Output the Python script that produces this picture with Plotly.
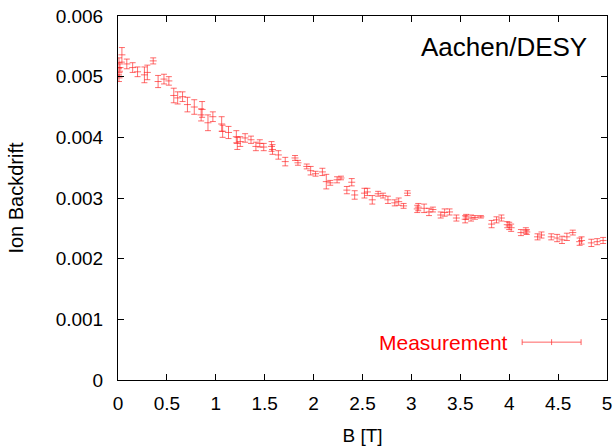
import plotly.graph_objects as go

# Data (B field in Tesla, ion backdrift, error)
B_field = [0.01, 0.01, 0.01, 0.02, 0.04, 0.09, 0.15, 0.20, 0.27, 0.30,
           0.36, 0.41, 0.47, 0.52, 0.57, 0.61, 0.66, 0.71, 0.78, 0.85,
           0.86, 0.92, 0.97, 1.06, 1.07, 1.13, 1.21, 1.22, 1.25, 1.30,
           1.36, 1.41, 1.45, 1.49, 1.57, 1.58, 1.64, 1.71, 1.81, 1.84,
           1.93, 1.97, 2.02, 2.09, 2.13, 2.17, 2.24, 2.28, 2.34, 2.39,
           2.42, 2.52, 2.55, 2.60, 2.66, 2.71, 2.76, 2.83, 2.87, 2.92,
           2.96, 3.06, 3.07, 3.13, 3.18, 3.22, 3.30, 3.34, 3.39, 3.46,
           3.55, 3.56, 3.61, 3.65, 3.71, 3.82, 3.87, 3.92, 3.98, 4.00,
           4.02, 4.12, 4.17, 4.18, 4.29, 4.33, 4.43, 4.49, 4.54, 4.59,
           4.65, 4.72, 4.74, 4.84, 4.90, 4.96]
backdrift = [0.00523, 0.00507, 0.00498, 0.00515, 0.00536, 0.00521, 0.00515, 0.00508, 0.00503, 0.00507,
             0.00526, 0.00492, 0.00496, 0.00493, 0.00469, 0.00465, 0.00467, 0.00454, 0.00450, 0.00437,
             0.00446, 0.00424, 0.00434, 0.00422, 0.00410, 0.00408, 0.00401, 0.00390, 0.00393, 0.00399,
             0.00396, 0.00385, 0.00390, 0.00384, 0.00385, 0.00380, 0.00371, 0.00360, 0.00366, 0.00358,
             0.00352, 0.00345, 0.00340, 0.00343, 0.00327, 0.00325, 0.00330, 0.00333, 0.00313, 0.00326,
             0.00305, 0.00308, 0.00310, 0.00297, 0.00307, 0.00304, 0.00297, 0.00292, 0.00294, 0.00287,
             0.00308, 0.00282, 0.00285, 0.00283, 0.00277, 0.00281, 0.00272, 0.00276, 0.00277, 0.00267,
             0.00265, 0.00269, 0.00267, 0.00268, 0.00269, 0.00257, 0.00264, 0.00267, 0.00256, 0.00254,
             0.00251, 0.00243, 0.00246, 0.00244, 0.00236, 0.00239, 0.00236, 0.00234, 0.00231, 0.00236,
             0.00243, 0.00228, 0.00230, 0.00226, 0.00228, 0.00230]
errors = [0.00008, 0.00006, 0.00006, 0.00006, 0.00012, 0.00008, 0.00008, 0.00008, 0.00013, 0.00012,
          0.00005, 0.00010, 0.00008, 0.00007, 0.00012, 0.00010, 0.00008, 0.00012, 0.00012, 0.00010,
          0.00013, 0.00013, 0.00008, 0.00012, 0.00010, 0.00010, 0.00010, 0.00010, 0.00008, 0.00007,
          0.00006, 0.00007, 0.00006, 0.00006, 0.00008, 0.00008, 0.00007, 0.00007, 0.00004, 0.00004,
          0.00004, 0.00007, 0.00004, 0.00006, 0.00012, 0.00004, 0.00005, 0.00003, 0.00006, 0.00006,
          0.00007, 0.00008, 0.00006, 0.00007, 0.00004, 0.00004, 0.00006, 0.00005, 0.00006, 0.00004,
          0.00004, 0.00006, 0.00006, 0.00007, 0.00006, 0.00004, 0.00005, 0.00006, 0.00005, 0.00005,
          0.00006, 0.00004, 0.00005, 0.00003, 0.00002, 0.00006, 0.00005, 0.00005, 0.00005, 0.00006,
          0.00006, 0.00005, 0.00005, 0.00004, 0.00005, 0.00005, 0.00005, 0.00006, 0.00006, 0.00006,
          0.00004, 0.00006, 0.00006, 0.00006, 0.00005, 0.00005]

x_ticks = [0, 0.5, 1, 1.5, 2, 2.5, 3, 3.5, 4, 4.5, 5]
x_ticklabels = ["0", "0.5", "1", "1.5", "2", "2.5", "3", "3.5", "4", "4.5", "5"]
y_ticks = [0, 0.001, 0.002, 0.003, 0.004, 0.005, 0.006]
y_ticklabels = ["0", "0.001", "0.002", "0.003", "0.004", "0.005", "0.006"]

red = "rgba(255,30,30,0.65)"
font = "Liberation Sans, Arial, sans-serif"

fig = go.Figure()
fig.add_trace(go.Scatter(
    x=B_field, y=backdrift, mode="markers", name="Measurement",
    marker=dict(symbol="line-ew", size=5, color=red, line=dict(color=red, width=1)),
    error_y=dict(type="data", array=errors, visible=True, color=red, thickness=1, width=3),
    showlegend=False, hoverinfo="skip",
))

# Legend (gnuplot style) drawn as text + sample
fig.add_annotation(x=0.802, y=0.104, xref="paper", yref="paper", text="Measurement",
                   showarrow=False, xanchor="right", yanchor="middle",
                   font=dict(family=font, size=21, color="red"))
leg_col = "rgba(255,60,60,0.8)"
fig.add_shape(type="line", xref="paper", yref="paper", x0=0.8265, x1=0.947, y0=0.104, y1=0.104,
              line=dict(color=leg_col, width=1))
for xp in (0.8265, 0.8867, 0.947):
    fig.add_shape(type="line", xref="paper", yref="paper", x0=xp, x1=xp, y0=0.096, y1=0.112,
                  line=dict(color=leg_col, width=1))

fig.add_annotation(x=0.963, y=0.915, xref="paper", yref="paper", text="Aachen/DESY",
                   showarrow=False, xanchor="right", yanchor="middle",
                   font=dict(family=font, size=26, color="black"))

axis_common = dict(showline=True, linecolor="black", linewidth=1, mirror="ticks",
                   ticks="inside", ticklen=6, tickcolor="black", showgrid=False,
                   zeroline=False, automargin=False, ticklabeloverflow="allow",
                   tickfont=dict(family=font, size=19, color="black"))

fig.update_xaxes(range=[0, 5], tickvals=x_ticks, ticktext=x_ticklabels,
                 title=dict(text="B [T]", font=dict(family=font, size=19, color="black"), standoff=15),
                 ticklabelstandoff=6, **axis_common)
fig.update_yaxes(range=[0, 0.006], tickvals=y_ticks, ticktext=y_ticklabels,
                 title=dict(text="Ion Backdrift", font=dict(family=font, size=20, color="black"), standoff=26),
                 ticklabelstandoff=10, **axis_common)

fig.update_layout(width=615, height=446, margin=dict(l=118, r=8, t=16, b=66, autoexpand=False),
                  plot_bgcolor="white", paper_bgcolor="white", showlegend=False)

fig.write_html("out.html", config={"displayModeBar": False},
               post_script="document.body.style.margin='0';")
